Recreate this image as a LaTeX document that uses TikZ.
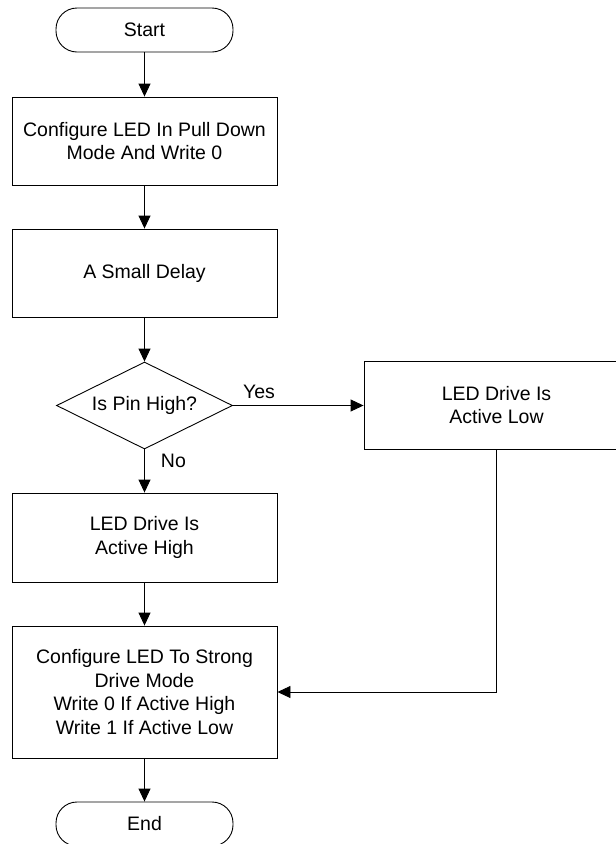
\documentclass[tikz,border=0pt]{standalone}
\usepackage{fontspec}
\setmainfont{Liberation Sans}
\usetikzlibrary{shapes.geometric,arrows.meta}
\begin{document}
\begin{tikzpicture}[x=1pt,y=-1pt,
  every node/.style={font=\fontsize{19.5}{23.5}\selectfont, align=center},
  procbox/.style={draw, line width=0.9pt, rectangle, minimum width=265pt, inner sep=0pt},
  termbox/.style={draw, line width=0.9pt, rectangle, rounded corners=21pt, minimum width=177pt, minimum height=44pt, inner sep=0pt},
  decbox/.style={draw, line width=0.9pt, diamond, aspect=2, minimum width=176pt, minimum height=87pt, inner sep=0pt},
  flow/.style={line width=0.9pt, -{Triangle[length=13pt,width=12pt]}},
  lbl/.style={inner sep=0pt}]
\useasboundingbox (0,0) rectangle (616,844);
\clip (0,0) rectangle (616,844);
\node[termbox] (start) at (144.5,30) {Start};
\node[procbox, minimum height=88pt] (b1) at (144.5,141) {Configure LED In Pull Down\\Mode And Write 0};
\node[procbox, minimum height=88pt] (b2) at (144.5,273) {A Small Delay};
\node[decbox] (dec) at (144.5,405.5) {Is Pin High?};
\node[procbox, minimum height=88pt] (rb) at (496.5,405) {LED Drive Is\\Active Low};
\node[procbox, minimum height=89pt] (b3) at (144.5,537.5) {LED Drive Is\\Active High};
\node[procbox, minimum height=132pt] (b4) at (144.5,692) {Configure LED To Strong\\Drive Mode\\Write 0 If Active High\\Write 1 If Active Low};
\node[termbox] (end) at (144.5,824) {End};
\draw[flow] (start) -- (b1);
\draw[flow] (b1) -- (b2);
\draw[flow] (b2) -- (dec);
\draw[flow] (dec.east) -- node[lbl, pos=0.2, above=6.5pt] {Yes} (dec.east -| rb.west);
\draw[flow] (dec.south) -- node[lbl, pos=0.27, right=16pt] {No} (b3.north);
\draw[flow] (b3) -- (b4);
\draw[flow] (rb.south) |- (b4.east);
\draw[flow] (b4) -- (end);
\end{tikzpicture}
\end{document}
